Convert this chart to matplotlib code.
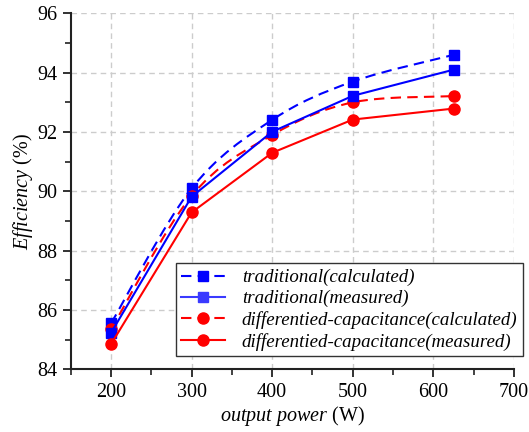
import numpy as np
import matplotlib
matplotlib.use("Agg")
import matplotlib.pyplot as plt
from matplotlib.path import Path
from matplotlib.patches import PathPatch
from matplotlib.lines import Line2D

plt.rcParams['font.family'] = ['Liberation Serif', 'DejaVu Serif']
plt.rcParams['mathtext.fontset'] = 'custom'
plt.rcParams['mathtext.it'] = 'Liberation Serif:italic'
plt.rcParams['mathtext.rm'] = 'Liberation Serif'

power = [200, 300, 400, 500, 625]
trad_calc = [85.55, 90.10, 92.41, 93.70, 94.60]
trad_meas = [85.23, 89.82, 92.01, 93.22, 94.10]
diff_calc = [85.35, 89.85, 91.90, 93.00, 93.21]
diff_meas = [84.85, 89.29, 91.30, 92.42, 92.79]
labels = ['traditional(calculated)', 'traditional(measured)',
          'differentied-capacitance(calculated)', 'differentied-capacitance(measured)']

fig = plt.figure(figsize=(5.29, 4.32), dpi=100)
ax = fig.add_axes([0.1336, 0.1447, 0.9716 - 0.1336, 0.9692 - 0.1447])

def smooth_path(xs, ys):
    # Catmull-Rom spline converted to cubic Bezier segments (drawing only)
    xs = np.asarray(xs, float); ys = np.asarray(ys, float)
    n = len(xs)
    verts = [(xs[0], ys[0])]
    codes = [Path.MOVETO]
    for i in range(n - 1):
        p0 = (xs[i-1], ys[i-1]) if i > 0 else (xs[i], ys[i])
        p1 = (xs[i], ys[i]); p2 = (xs[i+1], ys[i+1])
        p3 = (xs[i+2], ys[i+2]) if i + 2 < n else (xs[i+1], ys[i+1])
        c1 = (p1[0] + (p2[0] - p0[0]) / 6, p1[1] + (p2[1] - p0[1]) / 6)
        c2 = (p2[0] - (p3[0] - p1[0]) / 6, p2[1] - (p3[1] - p1[1]) / 6)
        verts += [c1, c2, p2]
        codes += [Path.CURVE4] * 3
    return Path(verts, codes)

blue = '#0000ff'
red = '#ff0000'
dash = (0, (5, 3))

for ys, col in [(trad_calc, blue), (diff_calc, red)]:
    patch = PathPatch(smooth_path(power, ys), facecolor='none', edgecolor=col,
                      lw=1.5, linestyle=dash, zorder=3)
    ax.add_patch(patch)
ax.plot(power, trad_calc, linestyle='none', marker='s', color=blue, ms=7.5, zorder=4)
ax.plot(power, diff_calc, linestyle='none', marker='o', color=red, ms=8, zorder=4)
ax.plot(power, trad_meas, '-', marker='s', color=blue, ms=7.5, lw=1.5, zorder=5)
ax.plot(power, diff_meas, '-', marker='o', color=red, ms=8, lw=1.5, zorder=5)

ax.set_xlim(150, 700)
ax.set_ylim(84, 96)
ax.set_xticks([200, 300, 400, 500, 600, 700])
ax.set_yticks([84, 86, 88, 90, 92, 94, 96])
ax.set_xticks(np.arange(150, 701, 50), minor=True)
ax.set_yticks(np.arange(84, 96.1, 1), minor=True)
ax.grid(True, which='major', color='#cccccc', linestyle=(0, (4, 3)), lw=1.0)
ax.set_axisbelow(True)
for s in ['top', 'right']:
    ax.spines[s].set_visible(False)
for s in ['left', 'bottom']:
    ax.spines[s].set_linewidth(1.5)
    ax.spines[s].set_color('#222222')
ax.tick_params(which='major', direction='out', length=6, width=1.3, labelsize=14.5, colors='#222222', labelcolor='black')
ax.tick_params(which='minor', direction='out', length=4, width=1.2, colors='#222222')

ax.set_xlabel(r'$\mathit{output\ power}$ (W)', fontsize=14.5, labelpad=2)
ax.set_ylabel(r'$\mathit{Efficiency}$ (%)', fontsize=14.5, labelpad=2)

handles = [
    Line2D([], [], color=blue, lw=1.5, linestyle=dash, marker='s', ms=7.5),
    Line2D([], [], color='#3a3aff', lw=1.5, linestyle='-', marker='s', ms=7.5),
    Line2D([], [], color=red, lw=1.5, linestyle=dash, marker='o', ms=8),
    Line2D([], [], color=red, lw=1.5, linestyle='-', marker='o', ms=8),
]
leg = fig.legend(handles, labels, loc='upper left', bbox_to_anchor=(0.332, 0.3905),
                 bbox_transform=fig.transFigure, fancybox=False, framealpha=1,
                 edgecolor='#333333', prop={'family': 'Liberation Serif', 'style': 'italic', 'size': 13.6},
                 labelspacing=0.2, handlelength=2.3, handletextpad=0.9, borderpad=0.3,
                 borderaxespad=0)
leg.get_frame().set_linewidth(1.0)

fig.savefig('out.png', dpi=100)
